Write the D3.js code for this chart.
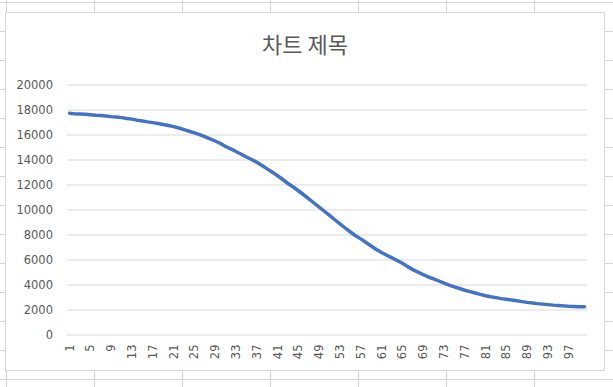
<html>
    <head>
        <meta charset="utf-8">
        <script src="https://d3js.org/d3.v7.min.js"></script>
        <style>
            body { margin: 0; background: #fff; }
        </style>
    </head>
    <body>
        <svg id="svg" width="613" height="387"></svg>
        <script>
            // chart values
            var title = "차트 제목";
            var categories = d3.range(1, 101);
            var values = [
                17700, 17650, 17640, 17620, 17580, 17540, 17520, 17480, 17430, 17400,
                17350, 17280, 17230, 17150, 17080, 17010, 16950, 16880, 16800, 16720,
                16630, 16520, 16390, 16260, 16130, 15990, 15830, 15650, 15480, 15280,
                15040, 14850, 14640, 14420, 14200, 14000, 13780, 13520, 13250, 12980,
                12700, 12400, 12080, 11800, 11500, 11180, 10850, 10520, 10190, 9860,
                9530, 9180, 8850, 8520, 8200, 7900, 7650, 7360, 7080, 6800,
                6560, 6340, 6130, 5920, 5700, 5430, 5190, 4990, 4790, 4600,
                4450, 4280, 4110, 3950, 3810, 3680, 3540, 3430, 3320, 3210,
                3100, 3020, 2950, 2870, 2820, 2760, 2700, 2630, 2570, 2520,
                2470, 2430, 2390, 2350, 2320, 2290, 2260, 2240, 2220, 2220
            ];
            var yTicks = [0, 2000, 4000, 6000, 8000, 10000, 12000, 14000, 16000, 18000, 20000];
            var xLabels = categories.filter(function(d){ return (d - 1) % 4 == 0; });

            var svg = d3.select("svg");
            var width = +svg.attr("width");
            var height = +svg.attr("height");

            // spreadsheet cells behind the chart
            var sheet = svg.append("g");
            for(var cx = 6; cx < width; cx += 88){
                sheet.append("line").attr("x1", cx + 0.5).attr("x2", cx + 0.5)
                     .attr("y1", 0).attr("y2", height).attr("stroke", "#d4d4d4");
            }
            for(var cy = 2; cy < height; cy += 29){
                sheet.append("line").attr("x1", 0).attr("x2", width)
                     .attr("y1", cy + 0.5).attr("y2", cy + 0.5).attr("stroke", "#d4d4d4");
            }

            // chart box
            svg.append("rect").attr("x", 5.5).attr("y", 12.5)
               .attr("width", 599).attr("height", 358)
               .attr("fill", "#fff").attr("stroke", "#d9d9d9");

            svg.append("text").attr("x", 305).attr("y", 53)
               .attr("text-anchor", "middle")
               .attr("font-family", "'Noto Sans CJK KR'")
               .attr("font-size", 22).attr("fill", "#595959")
               .text(title);

            var plotL = 67, plotR = 587, plotT = 84.5, plotB = 334.5;

            var x = d3.scaleBand().domain(categories).range([plotL, plotR]);
            var y = d3.scaleLinear().domain([0, 20000]).range([plotB, plotT]);

            // gridlines
            var yAxis = svg.append("g").attr("transform", "translate(" + plotL + ",0)")
                .call(d3.axisLeft(y).tickValues(yTicks).tickFormat(d3.format("d"))
                      .tickSize(-(plotR - plotL)).tickPadding(14));
            yAxis.select(".domain").remove();
            yAxis.selectAll(".tick line").attr("stroke", "#d9d9d9");
            yAxis.selectAll(".tick text")
                 .attr("font-family", "'DejaVu Sans'").attr("font-size", 11.5)
                 .attr("fill", "#595959");

            var xAxis = svg.append("g").attr("transform", "translate(0," + plotB + ")")
                .call(d3.axisBottom(x).tickValues(xLabels).tickSize(0));
            xAxis.select(".domain").remove();
            xAxis.selectAll(".tick text")
                 .attr("font-family", "'DejaVu Sans'").attr("font-size", 11.5)
                 .attr("fill", "#595959")
                 .attr("transform", "rotate(-90)")
                 .attr("text-anchor", "end")
                 .attr("x", -10).attr("y", 0).attr("dy", "0.35em");

            var line = d3.line()
                .x(function(d, i){ return x(categories[i]) + x.bandwidth() / 2; })
                .y(function(d){ return y(d); });

            svg.append("path").datum(values)
               .attr("d", line)
               .attr("fill", "none")
               .attr("stroke", "#4472c4")
               .attr("stroke-width", 3.5)
               .attr("stroke-linejoin", "round")
               .attr("stroke-linecap", "round");
        </script>
    </body>
</html>
